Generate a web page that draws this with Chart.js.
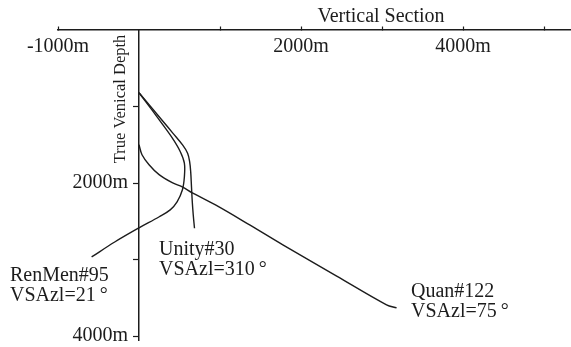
<!DOCTYPE html>
<html>
<head>
<meta charset="utf-8">
<script src="https://cdn.jsdelivr.net/npm/chart.js@4"></script>
<style>
  html, body { margin: 0; padding: 0; background: #fff; }
  #wrap { width: 571px; height: 347px; }
</style>
</head>
<body>
<div id="wrap"><canvas id="chart"></canvas></div>
<script>
// Well trajectories: vertical section (m) vs true vertical depth (m)
const renmenVS  = [0, 150, 250, 410, 510, 560, 560, 535, 470, 385, 250, 0, -300, -585];
const renmenTVD = [820, 1030, 1175, 1410, 1590, 1740, 1920, 2090, 2245, 2350, 2440, 2585, 2770, 2965];

const unityVS  = [0, 140, 290, 420, 540, 600, 625, 638, 648, 658, 670, 685];
const unityTVD = [820, 995, 1185, 1350, 1505, 1610, 1720, 1850, 2050, 2250, 2420, 2590];

const quanVS  = [0, 37, 124, 248, 410, 534, 658, 944, 1366, 1776, 2435, 3056, 3180];
const quanTVD = [1500, 1630, 1760, 1890, 1995, 2050, 2128, 2285, 2546, 2807, 3211, 3590, 3630];

const wellNames = ['RenMen#95', 'Unity#30', 'Quan#122'];
const wellAzimuths = ['VSAzl=21\u2009°', 'VSAzl=310\u2009°', 'VSAzl=75\u2009°'];

// axis ticks
const sectionTicks = [-1000, 1000, 2000, 3000, 4000, 5000];
const sectionTickLabels = ['-1000m', '', '2000m', '', '4000m', ''];
const depthTicks = [1000, 2000, 3000, 4000];
const depthTickLabels = ['', '2000m', '', '4000m'];

const ink = '#1c1c1c';
const serif = '"Liberation Serif", "Times New Roman", serif';

function toPoints(xs, ys) {
  return xs.map((x, i) => ({ x: x, y: ys[i] }));
}

function wellDataset(xs, ys) {
  return {
    data: toPoints(xs, ys),
    borderColor: ink,
    borderWidth: 1.4,
    pointRadius: 0,
    tension: 0.35,
    fill: false
  };
}

// titles, depth labels (chart.js puts y labels flush on a floating axis)
// and well labels anchored in data units
const annotations = {
  id: 'annotations',
  afterDraw(chart) {
    const ctx = chart.ctx;
    const xs = chart.scales.x;
    const ys = chart.scales.y;
    ctx.save();
    ctx.fillStyle = ink;
    ctx.textBaseline = 'middle';

    ctx.font = '20px ' + serif;
    ctx.textAlign = 'center';
    ctx.fillText('Vertical Section', 381, 17);

    ctx.save();
    ctx.font = '16.5px ' + serif;
    ctx.translate(121, 99);
    ctx.rotate(-Math.PI / 2);
    ctx.fillText('True Venical Depth', 0, 0);
    ctx.restore();

    ctx.font = '20px ' + serif;
    ctx.textAlign = 'right';
    const axisX = xs.getPixelForValue(0);
    depthTicks.forEach((v, i) => {
      if (depthTickLabels[i]) ctx.fillText(depthTickLabels[i], axisX - 11, ys.getPixelForValue(v));
    });

    const anchors = [[-1593, 3211], [247, 2872], [3358, 3420]];
    ctx.textAlign = 'left';
    anchors.forEach((a, i) => {
      const px = xs.getPixelForValue(a[0]);
      const py = ys.getPixelForValue(a[1]);
      ctx.fillText(wellNames[i], px, py);
      ctx.fillText(wellAzimuths[i], px, py + 20);
    });
    ctx.restore();
  }
};

new Chart(document.getElementById('chart'), {
  type: 'line',
  data: {
    datasets: [
      wellDataset(renmenVS, renmenTVD),
      wellDataset(unityVS, unityTVD),
      wellDataset(quanVS, quanTVD)
    ]
  },
  options: {
    responsive: true,
    maintainAspectRatio: false,
    animation: false,
    layout: { padding: { left: 58, top: 30, right: 0, bottom: 7 } },
    plugins: {
      legend: { display: false },
      tooltip: { enabled: false }
    },
    scales: {
      x: {
        type: 'linear',
        position: { y: 0 },
        min: -1000,
        max: 5333,
        afterBuildTicks: s => { s.ticks = sectionTicks.map(v => ({ value: v })); },
        ticks: {
          autoSkip: false,
          maxRotation: 0,
          padding: 11,
          color: ink,
          font: { family: serif, size: 20, lineHeight: 1 },
          callback: v => sectionTickLabels[sectionTicks.indexOf(v)]
        },
        // negative length turns the tick marks up, above the axis line
        grid: { drawOnChartArea: false, tickLength: -4, tickColor: ink, tickWidth: 1.2 },
        border: { color: ink, width: 1.5 }
      },
      y: {
        type: 'linear',
        position: { x: 0 },
        reverse: true,
        min: 0,
        max: 4050,
        afterBuildTicks: s => { s.ticks = depthTicks.map(v => ({ value: v })); },
        ticks: { display: false },
        grid: { drawOnChartArea: false, tickLength: 5, tickColor: ink, tickWidth: 1.2 },
        border: { color: ink, width: 1.5 }
      }
    }
  },
  plugins: [annotations]
});
</script>
</body>
</html>
